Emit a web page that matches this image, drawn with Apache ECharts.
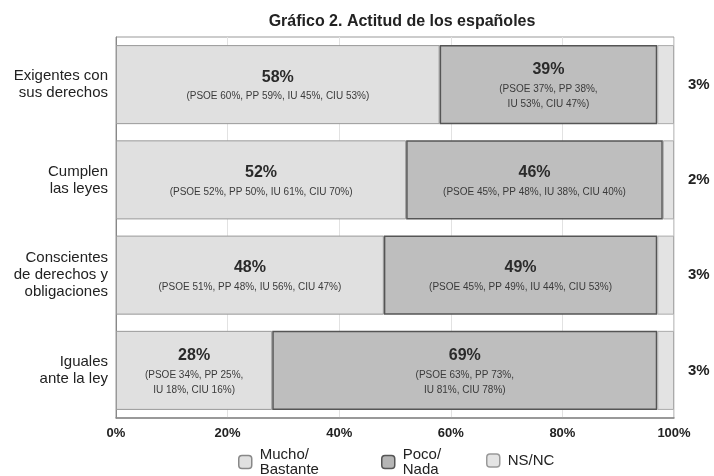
<!DOCTYPE html>
<html>
<head>
<meta charset="utf-8">
<script src="https://cdn.jsdelivr.net/npm/echarts@6/dist/echarts.min.js"></script>
<style>
html,body{margin:0;padding:0;background:#fff;}
#main{width:714px;height:476px;}
</style>
</head>
<body>
<div id="main"></div>
<script>
var categories = ['Exigentes con\nsus derechos', 'Cumplen\nlas leyes', 'Conscientes\nde derechos y\nobligaciones', 'Iguales\nante la ley'];
var mucho = [58, 52, 48, 28];
var poco = [39, 46, 49, 69];
var nsnc = [3, 2, 3, 3];
var muchoSub = [
  '(PSOE 60%, PP 59%, IU 45%, CIU 53%)',
  '(PSOE 52%, PP 50%, IU 61%, CIU 70%)',
  '(PSOE 51%, PP 48%, IU 56%, CIU 47%)',
  '(PSOE 34%, PP 25%,\nIU 18%, CIU 16%)'
];
var pocoSub = [
  '(PSOE 37%, PP 38%,\nIU 53%, CIU 47%)',
  '(PSOE 45%, PP 48%, IU 38%, CIU 40%)',
  '(PSOE 45%, PP 49%, IU 44%, CIU 53%)',
  '(PSOE 63%, PP 73%,\nIU 81%, CIU 78%)'
];
var xTicks = [0, 20, 40, 60, 80, 100];
var seriesNames = ['Mucho/Bastante', 'Poco/Nada', 'NS/NC'];
var legendNames = ['Mucho/\nBastante', 'Poco/\nNada', 'NS/NC'];

var FONT = '"Liberation Sans", Arial, Helvetica, sans-serif';

function makeLabel(subs) {
  return {
    show: true,
    position: 'inside',
    fontFamily: FONT,
    formatter: function (p) {
      var lines = subs[p.dataIndex].split('\n').map(function (l) { return '{s|' + l + '}'; });
      return '{b|' + p.value + '%}\n' + lines.join('\n');
    },
    rich: {
      b: { fontSize: 16, fontWeight: 'bold', color: '#2a2a2a', lineHeight: 24, fontFamily: FONT },
      s: { fontSize: 10, color: '#3a3a3a', lineHeight: 15, fontFamily: FONT }
    }
  };
}

var chart = echarts.init(document.getElementById('main'));
var legendStyles = [
  { color: '#e0e0e0', borderColor: '#888', borderWidth: 1.5 },
  { color: '#b5b5b5', borderColor: '#555', borderWidth: 1.5 },
  { color: '#e4e4e4', borderColor: '#999', borderWidth: 1.5 }
];
var legendLefts = [238, 381, 486];
var legends = seriesNames.map(function (n, i) {
  return {
    left: legendLefts[i],
    top: i === 2 ? 453 : 447,
    orient: 'horizontal',
    itemWidth: 13,
    itemHeight: 13,
    icon: 'roundRect',
    selectedMode: false,
    padding: 0,
    data: [{ name: n, itemStyle: legendStyles[i] }],
    formatter: function () { return legendNames[i]; },
    textStyle: { fontSize: 15, lineHeight: 15, color: '#222', fontFamily: FONT, padding: [0, 0, 0, 3] }
  };
});

chart.setOption({
  animation: false,
  backgroundColor: '#fff',
  title: {
    text: 'Gráfico 2. Actitud de los españoles',
    left: 397,
    top: 9,
    textAlign: 'center',
    textStyle: { fontSize: 16, fontWeight: 'bold', color: '#222', fontFamily: FONT }
  },
  legend: legends,
  grid: {
    left: 116, right: 40, top: 37, bottom: 58,
    show: true, borderColor: '#999', borderWidth: 1
  },
  xAxis: {
    type: 'value', min: 0, max: 100, interval: 20,
    axisLabel: {
      formatter: '{value}%', fontSize: 13, fontWeight: 'bold', color: '#222', margin: 9, fontFamily: FONT
    },
    axisLine: { show: true, lineStyle: { color: '#888', width: 1.5 } },
    axisTick: { show: false },
    splitLine: { show: true, lineStyle: { color: '#e2e2e2', width: 1 } }
  },
  yAxis: {
    type: 'category', inverse: true, data: categories,
    axisLabel: { fontSize: 15, lineHeight: 17, color: '#222', margin: 8, fontFamily: FONT },
    axisLine: { show: true, lineStyle: { color: '#888' } },
    axisTick: { show: false }
  },
  series: [
    {
      name: seriesNames[0], type: 'bar', stack: 'a', data: mucho, barWidth: '83%',
      itemStyle: { color: '#e0e0e0', borderColor: '#999', borderWidth: 1 },
      label: makeLabel(muchoSub)
    },
    {
      name: seriesNames[1], type: 'bar', stack: 'a', data: poco,
      itemStyle: { color: '#bebebe', borderColor: '#555', borderWidth: 1.5 },
      label: makeLabel(pocoSub)
    },
    {
      name: seriesNames[2], type: 'bar', stack: 'a', data: nsnc,
      itemStyle: { color: '#e3e3e3', borderColor: '#aaa', borderWidth: 1 },
      label: {
        show: true, position: 'right', distance: 14, formatter: '{c}%',
        fontSize: 15, fontWeight: 'bold', color: '#222', fontFamily: FONT
      }
    }
  ]
});
</script>
</body>
</html>
